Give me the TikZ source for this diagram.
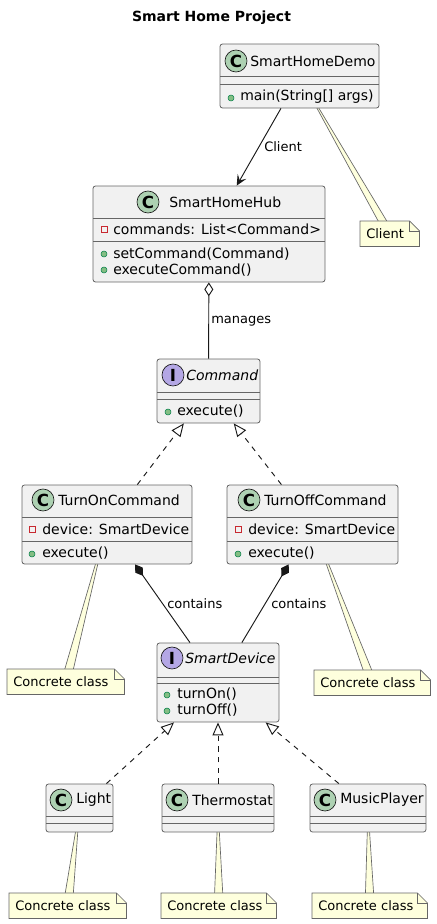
\documentclass[tikz,border=0pt]{standalone}
\usepackage{fontspec}
\setmainfont{DejaVu Sans}
\usetikzlibrary{arrows.meta,fit,backgrounds}
\definecolor{boxfill}{HTML}{F1F1F1}
\definecolor{boxline}{HTML}{666666}
\definecolor{edgecol}{HTML}{181818}
\definecolor{cgreen}{HTML}{ADD1B2}
\definecolor{ipurple}{HTML}{B4A7E5}
\definecolor{notefill}{HTML}{FEFFDD}
\definecolor{privred}{HTML}{C82930}
\definecolor{pubgreen}{HTML}{84BE84}
\definecolor{publine}{HTML}{038048}

\begin{document}
\begin{tikzpicture}
  [x=0.75pt,y=-0.75pt,
   every node/.style={font=\fontsize{10.5}{12}\selectfont,inner sep=0pt},
   cls/.style={draw=boxline,fill=boxfill,rounded corners=1.9pt,line width=0.6pt},
   divider/.style={draw=boxline,line width=0.6pt},
   cicon/.style={circle,draw=edgecol,fill=cgreen,minimum size=16.5pt,line width=0.5pt,font=\fontsize{12.5}{12}\selectfont\bfseries},
   iicon/.style={cicon,fill=ipurple},
   member/.style={anchor=west},
   privbox/.style={draw=privred,line width=0.6pt,minimum size=4.5pt},
   pubdot/.style={circle,draw=publine,fill=pubgreen,minimum size=4.5pt,line width=0.4pt},
   note/.style={anchor=north west,inner xsep=4.5pt,minimum height=18.75pt,align=left,font=\fontsize{9.75}{11}\selectfont},
   notepath/.style={draw=boxline,fill=notefill,line width=0.5pt},
   elabel/.style={anchor=west,font=\fontsize{9.75}{11}\selectfont},
   assoc/.style={draw=edgecol,line width=0.7pt,-{Stealth[length=8pt,width=7.5pt,inset=3.5pt]}},
   aggr/.style={draw=edgecol,line width=0.7pt,{Diamond[open,length=10.5pt,width=6.75pt]}-},
   compo/.style={draw=edgecol,line width=0.7pt,{Diamond[length=10.5pt,width=6.75pt]}-},
   realize/.style={draw=edgecol,line width=0.7pt,dash pattern=on 4pt off 4pt,-{Triangle[open,length=9.75pt,width=8.25pt]}}]
  \useasboundingbox (0,0) rectangle (436,924);

  \node (title) at (211.5,18) {\bfseries Smart Home Project};

  % SmartHomeDemo
  \node[cls,fit={(220,44) (379,108)}] (demo) {};
  \draw[divider] (220,76) -- (379,76);
  \draw[divider] (220,84) -- (379,84);
  \node[cicon] (demoC) at (236,61) {C};
  \node[member] (demoname) at (250,61) {SmartHomeDemo};
  \node[pubdot] (demod1) at (231,98) {};
  \node[member] (demom1) at (240,97) {main(String[] args)};

  % SmartHomeHub
  \node[cls,fit={(93,186) (325,282)}] (hub) {};
  \draw[divider] (93,218) -- (325,218);
  \draw[divider] (93,241) -- (325,241);
  \node[cicon] (hubC) at (148,202) {C};
  \node[member] (hubname) at (169,202) {SmartHomeHub};
  \node[privbox] (hubs1) at (104,229) {};
  \node[member] (huba1) at (113,229) {commands: List<Command>};
  \node[pubdot] (hubd1) at (104,254) {};
  \node[member] (hubm1) at (113,254) {setCommand(Command)};
  \node[pubdot] (hubd2) at (104,270) {};
  \node[member] (hubm2) at (113,270) {executeCommand()};

  % Command
  \node[cls,fit={(157,359) (260,423)}] (command) {};
  \draw[divider] (157,392) -- (260,392);
  \draw[divider] (157,399) -- (260,399);
  \node[iicon] (commandI) at (173,375) {I};
  \node[member] (commandname) at (186,375) {\itshape Command};
  \node[pubdot] (commandd1) at (168,412) {};
  \node[member] (commandm1) at (177,411) {execute()};

  % TurnOnCommand
  \node[cls,fit={(22,485) (192,564)}] (turnon) {};
  \draw[divider] (22,517) -- (192,517);
  \draw[divider] (22,541) -- (192,541);
  \node[cicon] (turnonC) at (43,500) {C};
  \node[member] (turnonname) at (58,500) {TurnOnCommand};
  \node[privbox] (turnons1) at (32,529) {};
  \node[member] (turnona1) at (42,529) {device: SmartDevice};
  \node[pubdot] (turnond1) at (32,554) {};
  \node[member] (turnonm1) at (42,553) {execute()};

  % TurnOffCommand
  \node[cls,fit={(227,485) (398,564)}] (turnoff) {};
  \draw[divider] (227,517) -- (398,517);
  \draw[divider] (227,541) -- (398,541);
  \node[cicon] (turnoffC) at (249,500) {C};
  \node[member] (turnoffname) at (264,500) {TurnOffCommand};
  \node[privbox] (turnoffs1) at (238,529) {};
  \node[member] (turnoffa1) at (248,529) {device: SmartDevice};
  \node[pubdot] (turnoffd1) at (238,554) {};
  \node[member] (turnoffm1) at (248,553) {execute()};

  % SmartDevice
  \node[cls,fit={(157,643) (279,722)}] (device) {};
  \draw[divider] (157,677) -- (279,677);
  \draw[divider] (157,683) -- (279,683);
  \node[iicon] (deviceI) at (172,658) {I};
  \node[member] (devicename) at (185,658) {\itshape SmartDevice};
  \node[pubdot] (deviced1) at (167,695) {};
  \node[member] (devicem1) at (177,694) {turnOn()};
  \node[pubdot] (deviced2) at (167,711) {};
  \node[member] (devicem2) at (177,710) {turnOff()};

  % Light, Thermostat, MusicPlayer
  \node[cls,fit={(46,784) (113,832)}] (light) {};
  \node[cls,fit={(162,784) (274,832)}] (thermo) {};
  \node[cls,fit={(310,784) (426,832)}] (music) {};
  \foreach \l/\r in {46/113,162/274,310/426} {
    \draw[divider] (\l,816) -- (\r,816);
    \draw[divider] (\l,823) -- (\r,823);
  }
  \node[cicon] (lightC) at (61,800) {C};
  \node[member] (lightname) at (76,800) {Light};
  \node[cicon] (thermoC) at (177,800) {C};
  \node[member] (thermoname) at (192,800) {Thermostat};
  \node[cicon] (musicC) at (325,800) {C};
  \node[member] (musicname) at (340,800) {MusicPlayer};

  % notes
  \node[note,text width=35.25pt] (clientnote) at (360,221) {Client};
  \node[note,text width=78.75pt] (onnote) at (7,669) {Concrete class};
  \node[note,text width=78pt] (offnote) at (314,670) {Concrete class};
  \node[note,text width=78.75pt] (lightnote) at (9,893) {Concrete class};
  \node[note,text width=77.25pt] (thermonote) at (161,893) {Concrete class};
  \node[note,text width=77.25pt] (musicnote) at (312,893) {Concrete class};

  % relations
  \draw[assoc] (demo) -- (hub);
  \draw[aggr] (hub) -- (command);
  \draw[realize] (turnon) -- (command);
  \draw[realize] (turnoff) -- (command);
  \draw[compo] (turnon) -- (device);
  \draw[compo] (turnoff) -- (device);
  \foreach \from in {light,thermo,music}
    \draw[realize] (\from) -- (device);

  \node[elabel] (clientlabel) at (264,147) {Client};
  \node[elabel] (manageslabel) at (211,321) {manages};
  \node[elabel] (onlabel) at (167,604) {contains};
  \node[elabel] (offlabel) at (271,604) {contains};

  \begin{pgfonlayer}{background}
    \foreach \from/\to in {demo/clientnote,turnon/onnote,turnoff/offnote,light/lightnote,thermo/thermonote,music/musicnote} {
      \filldraw[notepath] (\from.center) -- ([xshift=-3.5pt]\to.center) -- ([xshift=3.5pt]\to.center) -- cycle;
    }
    \foreach \n in {clientnote,onnote,offnote,lightnote,thermonote,musicnote} {
      \filldraw[notepath] (\n.north west) -- ([xshift=-7.5pt]\n.north east) -- ([yshift=-7.5pt]\n.north east)
        -- (\n.south east) -- (\n.south west) -- cycle;
      \draw[notepath,fill=none] ([xshift=-7.5pt]\n.north east) |- ([yshift=-7.5pt]\n.north east);
    }
  \end{pgfonlayer}
\end{tikzpicture}
\end{document}
